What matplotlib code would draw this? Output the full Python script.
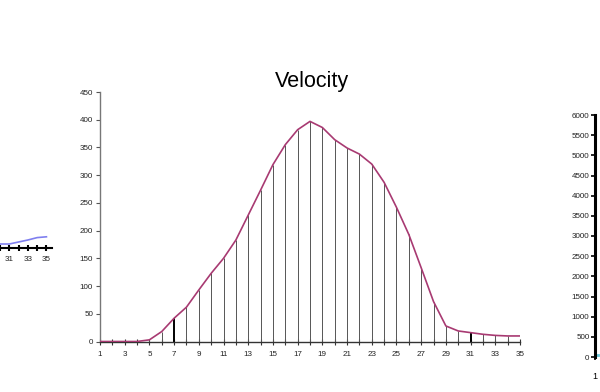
import matplotlib
matplotlib.use("Agg")
import matplotlib.pyplot as plt
import numpy as np

plt.rcParams['font.family'] = ['Liberation Sans', 'DejaVu Sans']

# Main chart data
x_vals = list(range(1, 36))
velocity = [0, 0, 0, 0, 3, 18, 42, 62, 93, 123, 150, 183, 228, 273, 319, 355, 382, 397,
            386, 364, 349, 338, 320, 287, 242, 193, 133, 72, 28, 19, 16, 13, 11, 10, 10]
bold_drops = [7, 31]
y_ticks = list(range(0, 451, 50))
x_ticklabels = list(range(1, 36, 2))

# Partial right chart axis
right_ticks = list(range(0, 6001, 500))
# Partial left chart
left_x = [30, 31, 32, 33, 34, 35]
left_vals = [1, 1, 1.5, 2, 2.6, 2.8]

fig = plt.figure(figsize=(6.0, 3.92), dpi=100)

ax = fig.add_axes([100/600, (392-341.5)/392, 420/600, 249.5/392])
ax.set_xlim(1, 35)
ax.set_ylim(0, 450)
for xv, v in zip(x_vals, velocity):
    if xv in bold_drops:
        ax.vlines(xv, 0, v, color='black', lw=1.4, zorder=2)
    else:
        ax.vlines(xv, 0, v, color='#555555', lw=0.7, zorder=2)
ax.plot(x_vals, velocity, color='#a83a72', lw=1.2, zorder=3)
ax.set_yticks(y_ticks)
ax.set_yticklabels([str(t) for t in y_ticks], fontsize=5.8, color='#222222')
ax.set_xticks(x_ticklabels)
ax.set_xticklabels([str(t) for t in x_ticklabels], fontsize=5.8, color='#222222')
ax.set_xticks(x_vals, minor=True)
ax.tick_params(axis='x', which='both', direction='inout', length=5, width=0.8, color='#333333', pad=4)
ax.tick_params(axis='y', direction='out', length=3, width=0.8, color='#555555', pad=2)
for s in ['top', 'right']:
    ax.spines[s].set_visible(False)
ax.spines['left'].set_color('#777777')
ax.spines['bottom'].set_color('#333333')
ax.spines['left'].set_linewidth(1.0)
ax.spines['bottom'].set_linewidth(1.0)
fig.text(312/600, 1 - 81/392, 'Velocity', ha='center', va='center', fontsize=15.5, color='black')

# Right partial chart
axr = fig.add_axes([595/600, (392-357)/392, 20/600, 242/392])
axr.set_ylim(0, 6000)
axr.set_xlim(1, 2)
axr.set_yticks(right_ticks)
axr.set_yticklabels([str(t) for t in right_ticks], fontsize=5.8, color='#222222')
axr.set_xticks([1])
axr.set_xticklabels(['1'], fontsize=6.5)
axr.tick_params(axis='y', direction='out', length=3, width=1.2, color='black', pad=1)
axr.tick_params(axis='x', direction='inout', length=4, width=1.2, color='black', pad=9)
for s in ['top', 'right', 'bottom']:
    axr.spines[s].set_visible(False)
axr.spines['left'].set_linewidth(2.2)
axr.spines['left'].set_color('black')
axr.plot([1, 1.15], [60, 60], color='#66c6d8', lw=2, clip_on=False)
axr.patch.set_alpha(0)

# Left partial chart
axl = fig.add_axes([0, (392-248)/392, 52/600, 20/392])
axl.set_xlim(30.4, 35.6)
axl.set_ylim(0, 5)
axl.plot(left_x, left_vals, color='#7f7fef', lw=1.2)
axl.set_xticks([31, 33, 35])
axl.set_xticklabels(['31', '33', '35'], fontsize=5.8, color='#222222')
axl.set_xticks(left_x, minor=True)
axl.set_yticks([])
axl.tick_params(axis='x', which='both', direction='inout', length=5, width=1.5, color='black', pad=3)
for s in ['top', 'right', 'left']:
    axl.spines[s].set_visible(False)
axl.spines['bottom'].set_linewidth(1.5)
axl.patch.set_alpha(0)

fig.savefig('out.png', dpi=100)
